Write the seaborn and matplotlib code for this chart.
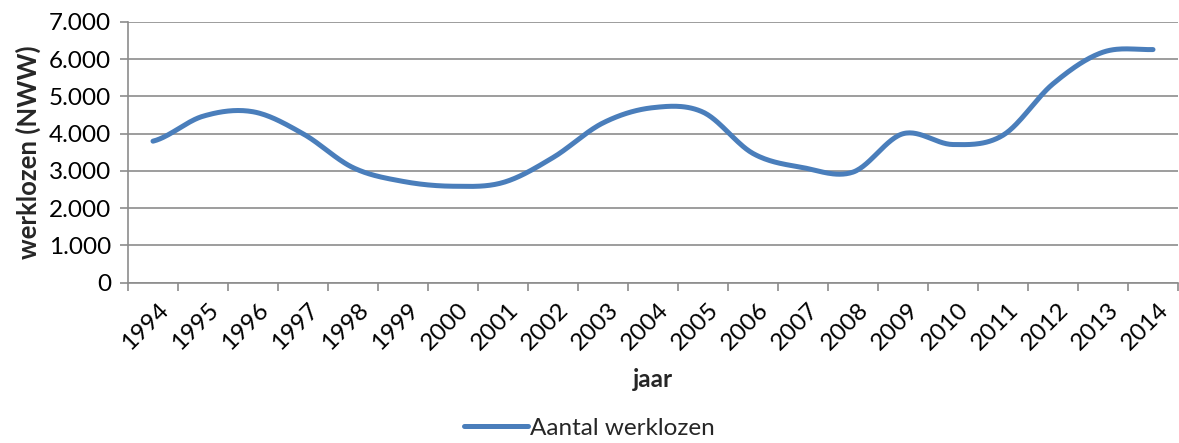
import numpy as np
import pandas as pd
import matplotlib
matplotlib.use("Agg")
import matplotlib.pyplot as plt
import seaborn as sns
from matplotlib.ticker import FuncFormatter, FixedLocator
from matplotlib.lines import Line2D

years = [str(y) for y in range(1994, 2015)]
werklozen = [3800, 4470, 4590, 4000, 3090, 2720, 2590, 2690, 3360, 4290, 4700,
             4580, 3470, 3090, 2970, 4000, 3710, 3960, 5340, 6190, 6260]
y_ticks = [0, 1000, 2000, 3000, 4000, 5000, 6000, 7000]
series_name = "Aantal werklozen"

sns.set_theme(style="white")
plt.rcParams['font.family'] = ['Lato', 'DejaVu Sans']

# Excel-style smoothed line: Catmull-Rom spline through the data points
def smooth(xs, ys, n=30):
    xs = np.asarray(xs, float); ys = np.asarray(ys, float)
    px = np.concatenate([[2*xs[0]-xs[1]], xs, [2*xs[-1]-xs[-2]]])
    py = np.concatenate([[ys[0]], ys, [ys[-1]]])
    ox, oy = [], []
    for i in range(1, len(px) - 2):
        t = np.linspace(0, 1, n, endpoint=(i == len(px) - 3))
        for P, out in ((px, ox), (py, oy)):
            p0, p1, p2, p3 = P[i-1], P[i], P[i+1], P[i+2]
            out.extend(0.5 * ((2*p1) + (-p0 + p2)*t + (2*p0 - 5*p1 + 4*p2 - p3)*t**2
                              + (-p0 + 3*p1 - 3*p2 + p3)*t**3))
    return np.array(ox), np.array(oy)

xi = np.arange(len(years))
sx, sy = smooth(xi, werklozen)
df = pd.DataFrame({"x": sx, "y": sy, "serie": series_name})

FS = 17.5
fig = plt.figure(figsize=(11.79, 4.43), dpi=100)
ax = fig.add_axes([128/1179, 1 - 282.7/443, 1050/1179, (282.7 - 22)/443])

sns.lineplot(data=df, x="x", y="y", hue="serie", palette=["#4A7EBB"], sort=False,
             linewidth=3.6, ax=ax, legend=False, solid_capstyle="round")

ax.set_xlim(-0.5, len(years) - 0.5)
ax.set_ylim(0, 7000)
ax.set_yticks(y_ticks)
ax.yaxis.set_major_formatter(FuncFormatter(lambda v, p: f"{int(v):,}".replace(",", ".")))
ax.grid(axis="y", color="#8C8C8C", linewidth=1.2)
ax.grid(axis="x", visible=False)

ax.set_xticks(xi + 0.1)
ax.set_xticklabels(years, rotation=45, ha="right", rotation_mode="anchor")
ax.xaxis.set_minor_locator(FixedLocator(np.arange(-0.5, len(years), 1.0)))
ax.tick_params(axis="x", which="major", length=0, pad=12, labelsize=FS, colors="black")
ax.tick_params(axis="x", which="minor", length=6, width=1.2, color="#8C8C8C", bottom=True)
ax.tick_params(axis="y", which="major", length=6, width=1.2, color="#8C8C8C", left=True,
               labelsize=FS, labelcolor="black", pad=6)

for s in ["top", "right"]:
    ax.spines[s].set_visible(False)
for s in ["left", "bottom"]:
    ax.spines[s].set_color("#8C8C8C")
    ax.spines[s].set_linewidth(1.2)

ax.set_xlabel("jaar", fontsize=FS, fontweight="bold", labelpad=10)
ax.set_ylabel("werklozen (NWW)", fontsize=18.5, fontweight="bold", labelpad=6)

h = [Line2D([0], [0], color="#4A7EBB", lw=3.6, solid_capstyle="round")]
fig.legend(h, [series_name], loc="lower center", bbox_to_anchor=(0.5, -0.04), frameon=False,
           fontsize=FS, handlelength=2.6, handletextpad=0.1)

fig.savefig("out.png", dpi=100)
